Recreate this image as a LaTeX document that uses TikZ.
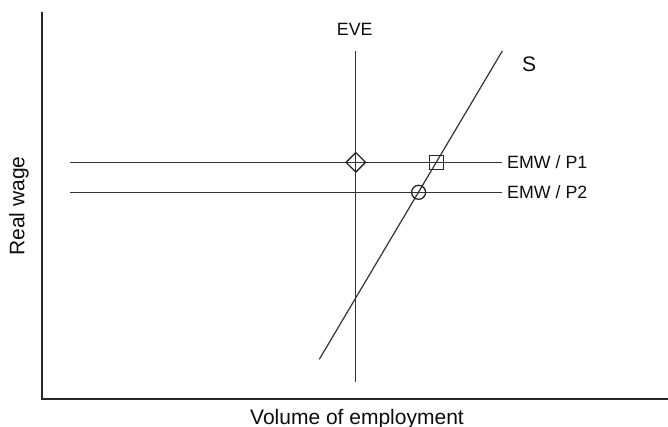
\documentclass[tikz,border=0pt]{standalone}
\usepackage{fontspec}
\setmainfont{Liberation Sans}
\usetikzlibrary{shapes.geometric}

\begin{document}
\begin{tikzpicture}[x=1pt, y=-1pt]
        \tikzset{
            axis/.style={draw=black!85, line width=2pt},
            ln/.style  ={draw=black!80, line width=1.2pt},
            mk/.style  ={draw=black!85, line width=1.3pt, inner sep=0pt},
            lbl/.style ={font=\fontsize{17.8}{20}\selectfont, text=black!95, inner sep=0pt},
            big/.style ={font=\fontsize{21}{24}\selectfont, text=black!95, inner sep=0pt}
        }
        \useasboundingbox (0,0) rectangle (668,427);
        %% ---- Ejes ----
        \coordinate (ytop) at (41.7, 11.7);
        \coordinate (orig) at (41.7, 399.3);
        \coordinate (xend) at (668, 399.3);
        \draw[axis] (ytop) -- (orig) -- (xend);
        \node[big, rotate=90] (ylab) at (19, 206) {Real wage};
        \node[big, anchor=base] (xlab) at (357, 424) {Volume of employment};
        %% ---- EVE (vertical) ----
        \coordinate (evetop) at (355.8, 51);
        \coordinate (evebot) at (355.8, 381.7);
        \draw[ln] (evetop) -- (evebot);
        \node[lbl] (eve) at (354.7, 29.7) {EVE};
        %% ---- Oferta S ----
        \coordinate (sbot) at (319.3, 359.3);
        \coordinate (stop) at (502.3, 51);
        \draw[ln] (sbot) -- (stop);
        \node[big] (slab) at (529, 63.8) {S};
        %% ---- EMW / P1, EMW / P2 ----
        \coordinate (p1l) at (70, 162.3);
        \coordinate (p1r) at (501.7, 162.3);
        \coordinate (p2l) at (70, 192.3);
        \coordinate (p2r) at (501.7, 192.3);
        \draw[ln] (p1l) -- (p1r);
        \draw[ln] (p2l) -- (p2r);
        \node[lbl, anchor=west] (p1) at (507, 162.3) {EMW / P1};
        \node[lbl, anchor=west] (p2) at (507, 192.3) {EMW / P2};
        %% ---- Marcas ----
        \node[mk, diamond, minimum size=20pt]   (dia) at (355.8, 162.3) {};
        \node[mk, rectangle, minimum size=14pt] (sq)  at (436.4, 162.3) {};
        \node[mk, circle, minimum size=14pt]    (cir) at (418.6, 192.3) {};
    \end{tikzpicture}
\end{document}
